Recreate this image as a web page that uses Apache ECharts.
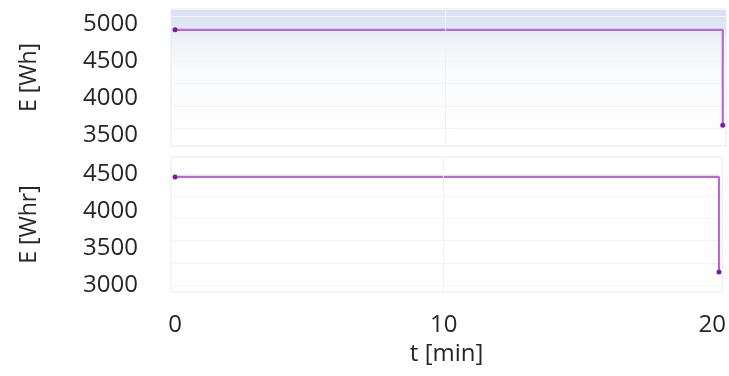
<!DOCTYPE html>
<html>
<head>
<meta charset="utf-8">
<script src="https://cdn.jsdelivr.net/npm/echarts@6/dist/echarts.min.js"></script>
<style>
  html, body { margin: 0; padding: 0; background: #fff; }
  #chart { width: 729px; height: 376px; }
</style>
</head>
<body>
<div id="chart"></div>
<script>
// Time stamps [min] and energy readings for the two panels
const timeMin = [0, 20.25];
const energyWh = [4920, 3640];
const energyWhr = [4460, 3175];

// Tick labels
const xTicks = [0, 10, 20];
const xGridMark = 10;
const yTicksTop = [3500, 4000, 4500, 5000];
const yTicksBottom = [3000, 3500, 4000, 4500];

const FONT = 'Open Sans';
const TEXT = '#262626';
const LINE = '#b46ccf';
const DOT = '#7a1ea0';

const chart = echarts.init(document.getElementById('chart'));

function xAxis(gridIndex, showLabels) {
  return {
    type: 'value', gridIndex, min: -0.15, max: 20.37,
    axisLine: { show: false }, axisTick: { show: false },
    axisLabel: {
      show: showLabels, customValues: xTicks, margin: 21,
      fontFamily: FONT, fontSize: 24, color: TEXT
    },
    splitLine: { show: false },
    name: showLabels ? 't [min]' : '', nameLocation: 'middle', nameGap: 50,
    nameTextStyle: { fontFamily: FONT, fontSize: 24, color: TEXT }
  };
}

function yAxis(gridIndex, min, max, ticks, name) {
  return {
    type: 'value', gridIndex, min, max,
    axisLine: { show: false }, axisTick: { show: false },
    axisLabel: {
      customValues: ticks, margin: 33,
      formatter: v => String(v),
      fontFamily: FONT, fontSize: 24, color: TEXT
    },
    splitLine: { show: true, lineStyle: { color: '#f4f4f4', width: 1 } },
    name, nameLocation: 'middle', nameGap: 130, nameRotate: 90,
    nameTextStyle: { fontFamily: FONT, fontSize: 23, color: TEXT }
  };
}

function series(idx, values) {
  return {
    type: 'line', xAxisIndex: idx, yAxisIndex: idx, step: 'end',
    data: timeMin.map((t, i) => [t, values[i]]),
    lineStyle: { color: LINE, width: 2.2 },
    itemStyle: { color: DOT },
    symbol: 'circle', symbolSize: 5, showSymbol: true,
    markLine: {
      silent: true, symbol: 'none', label: { show: false },
      lineStyle: { color: '#f1f1f1', width: 1, type: 'solid' },
      data: [{ xAxis: xGridMark }]
    },
    animation: false
  };
}

chart.setOption({
  animation: false,
  grid: [
    {
      left: 171, right: 3, top: 9, height: 137, show: true,
      borderColor: '#e6e9ee', borderWidth: 1,
      backgroundColor: {
        type: 'linear', x: 0, y: 0, x2: 0, y2: 1,
        colorStops: [
          { offset: 0, color: '#dae1f1' },
          { offset: 0.15, color: '#e2e7f4' },
          { offset: 0.2, color: '#edf0f8' },
          { offset: 0.45, color: '#fafbfd' },
          { offset: 1, color: '#ffffff' }
        ]
      }
    },
    {
      left: 171, right: 3, top: 157, height: 135, show: true,
      borderColor: '#eaeaea', borderWidth: 1, backgroundColor: '#ffffff'
    }
  ],
  xAxis: [xAxis(0, false), xAxis(1, true)],
  yAxis: [
    yAxis(0, 3360, 5200, yTicksTop, 'E [Wh]'),
    yAxis(1, 2905, 4730, yTicksBottom, 'E [Whr]')
  ],
  series: [series(0, energyWh), series(1, energyWhr)]
});
</script>
</body>
</html>
